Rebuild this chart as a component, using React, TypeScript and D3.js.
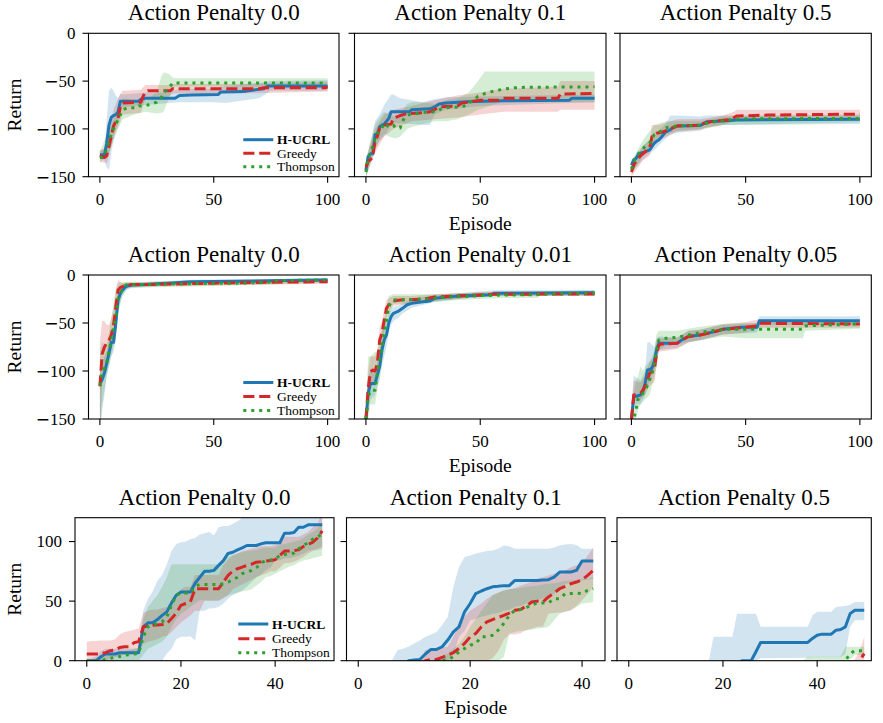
import React from 'react';
import * as d3 from 'd3';

type Pt = [number, number];
type Bd = [number, number, number];

const W = 883;
const H = 723;
const FONT = "'Liberation Serif','Times New Roman',Times,serif";
const COLORS = ['#1f77b4', '#d62728', '#2ca02c'];
const DASHES: (string | undefined)[] = [undefined, '11.1 4.8', '3 4.95'];
const LW = 3;
const SERIES_NAMES = ['H-UCRL', 'Greedy', 'Thompson'];

const ROW1_TITLES = ['Action Penalty 0.0', 'Action Penalty 0.1', 'Action Penalty 0.5'];
const ROW2_TITLES = ['Action Penalty 0.0', 'Action Penalty 0.01', 'Action Penalty 0.05'];
const ROW3_TITLES = ['Action Penalty 0.0', 'Action Penalty 0.1', 'Action Penalty 0.5'];

const Y_TICKS_NEG = [0, -50, -100, -150];
const Y_TICKS_POS = [0, 50, 100];
const X_TICKS_100 = [0, 50, 100];
const X_TICKS_50 = [0, 20, 40];

// ---------- Row 1 ----------
const R1P1_HUCRL: Pt[] = [[0,-127],[2,-127],[3,-115],[4,-96],[5,-88],[6,-86],[7,-85],[8,-82],[9,-71],[17,-71],[18,-69],[20,-68],[33,-68],[35,-65],[40,-64.5],[52,-64],[53,-61.5],[63,-61],[70,-58.5],[72,-58],[74,-55],[100,-55]];
const R1P1_HUCRL_BAND: Bd[] = [[0,-131,-123],[2,-133,-121],[3,-140,-90],[4,-143,-60],[5,-125,-57],[6,-112,-60],[7,-100,-65],[8,-95,-68],[9,-80,-63],[10,-77,-64],[20,-75,-62],[30,-73,-62],[35,-72,-58],[50,-72,-58],[55,-73,-55],[70,-68,-52],[75,-60,-50],[100,-60,-49]];
const R1P1_GREEDY: Pt[] = [[0,-128],[2,-130],[3,-128],[4,-118],[5,-108],[6,-97],[7,-92],[8,-89],[9,-77],[10,-73],[18,-72],[19,-66],[20,-61],[21,-60],[31,-60],[32,-58],[70,-58],[72,-57],[99,-57],[100,-56]];
const R1P1_GREEDY_BAND: Bd[] = [[0,-134,-122],[3,-136,-120],[4,-128,-105],[6,-108,-80],[8,-98,-68],[10,-85,-60],[18,-83,-59],[20,-68,-54],[30,-66,-54],[32,-63,-53],[60,-63,-53],[100,-61,-51]];
const R1P1_THOMPSON: Pt[] = [[0,-130],[1,-130],[2,-127],[3,-121],[4,-113],[5,-105],[6,-100],[7,-95],[8,-90],[9,-85],[10,-80],[12,-78],[16,-78],[17,-76],[21,-75],[25,-72],[27,-67],[28,-62],[30,-58],[32,-52],[100,-52]];
const R1P1_THOMPSON_BAND: Bd[] = [[0,-136,-124],[4,-125,-100],[8,-100,-80],[10,-90,-68],[15,-85,-70],[20,-82,-70],[25,-84,-62],[27,-83,-45],[28,-82,-41],[30,-70,-42],[32,-58,-46],[33,-56,-47],[100,-56,-47]];

const R1P2_HUCRL: Pt[] = [[0,-143],[1,-129],[2,-126],[3,-126],[4,-106],[5,-105],[6,-98],[7,-96],[8,-95],[9,-92],[10,-89],[11,-82],[19,-82],[20,-80],[28,-79],[30,-77],[32,-74],[35,-73],[44,-71.5],[60,-70.5],[89,-70],[90,-68],[100,-68]];
const R1P2_HUCRL_BAND: Bd[] = [[0,-150,-135],[2,-136,-115],[4,-120,-92],[6,-112,-85],[8,-108,-75],[10,-100,-68],[11,-95,-64],[12,-94,-64],[15,-94,-68],[20,-95,-70],[25,-96,-72],[28,-96,-70],[30,-85,-69],[35,-80,-67],[50,-76,-66],[100,-72,-64]];
const R1P2_GREEDY: Pt[] = [[0,-140],[1,-134],[2,-132],[3,-129],[4,-112],[5,-108],[6,-99],[7,-97],[8,-96],[11,-95],[12,-89],[15,-86],[18,-84],[25,-83],[28,-82],[30,-80],[32,-77],[40,-76],[42,-73],[46,-71.5],[50,-70],[58,-70],[60,-68],[84,-68],[85,-63.5],[100,-63]];
const R1P2_GREEDY_BAND: Bd[] = [[0,-150,-130],[4,-125,-100],[8,-108,-85],[12,-100,-80],[20,-92,-76],[30,-90,-70],[40,-88,-65],[50,-85,-62],[60,-82,-58],[84,-82,-56],[85,-80,-50],[100,-80,-50]];
const R1P2_THOMPSON: Pt[] = [[0,-145],[1,-130],[2,-125],[3,-118],[4,-110],[5,-105],[6,-101],[7,-99],[8,-94],[10,-98],[12,-96],[13,-99],[15,-99],[16,-92],[17,-88],[18,-86],[19,-85],[25,-83],[30,-82],[33,-79],[35,-78],[40,-77],[43,-76],[45,-73],[47,-70],[49,-66],[52,-63],[55,-61],[60,-58.5],[65,-57],[70,-56.5],[100,-56]];
const R1P2_THOMPSON_BAND: Bd[] = [[0,-150,-135],[2,-135,-112],[4,-122,-95],[6,-112,-88],[8,-105,-82],[10,-108,-85],[13,-110,-88],[15,-108,-85],[18,-100,-74],[20,-98,-72],[25,-95,-72],[30,-92,-74],[35,-92,-70],[40,-90,-68],[45,-85,-62],[49,-80,-50],[52,-78,-40],[55,-75,-40],[60,-72,-40],[100,-72,-40]];

const R1P3_HUCRL: Pt[] = [[0,-138],[1,-132.5],[2,-131],[3,-127],[4,-125.5],[6,-124],[8,-122],[9,-118.6],[10,-115],[11,-113],[12,-111.6],[13,-109],[14,-106],[15,-103],[17,-101],[18,-99],[20,-97],[30,-96.5],[32,-94],[33,-92.4],[40,-91.7],[46,-90.7],[100,-90]];
const R1P3_HUCRL_BAND: Bd[] = [[0,-145,-132],[5,-132,-118],[10,-122,-106],[15,-110,-95],[17,-106,-86],[20,-104,-86],[30,-102,-87],[33,-98,-86],[40,-96,-86],[100,-95,-85]];
const R1P3_GREEDY: Pt[] = [[0,-145],[1,-138],[2,-134],[3,-131],[4,-128],[5,-126],[6,-124],[7,-122],[8,-120],[9,-108],[10,-106],[11,-104.6],[14,-103],[16,-101],[18,-99],[20,-97],[30,-96],[32,-94],[35,-92.4],[40,-91],[44,-90],[45,-88],[46,-86.5],[60,-85.5],[100,-84.5]];
const R1P3_GREEDY_BAND: Bd[] = [[0,-150,-138],[5,-133,-118],[8,-128,-112],[9,-118,-96],[12,-112,-96],[20,-103,-90],[30,-101,-90],[40,-96,-86],[45,-92,-82],[46,-90,-80],[100,-89,-80]];
const R1P3_THOMPSON: Pt[] = [[0,-142],[1,-135],[2,-129],[3,-126],[4,-124],[5,-121],[6,-118.6],[7,-117],[8,-115],[9,-110],[10,-106],[12,-104],[13,-102],[14,-100],[15,-99],[17,-97.7],[20,-97],[30,-96],[33,-94],[35,-93],[40,-91.5],[45,-90],[50,-89.5],[100,-89]];
const R1P3_THOMPSON_BAND: Bd[] = [[0,-148,-135],[5,-128,-112],[10,-115,-96],[15,-106,-92],[20,-102,-92],[30,-100,-92],[40,-96,-87],[100,-93,-86]];

// ---------- Row 2 ----------
const R2P1_HUCRL: Pt[] = [[0,-113],[1,-109],[2,-102],[3,-92],[4,-81.6],[5,-70],[6,-70],[7,-50],[8,-26],[9,-19],[10,-15.6],[11,-13],[12,-11.5],[14,-10.4],[20,-10],[25,-9],[30,-8.5],[40,-7],[60,-6.5],[80,-5.8],[100,-5.2]];
const R2P1_HUCRL_BAND: Bd[] = [[0,-170,-95],[1,-140,-90],[2,-125,-85],[3,-105,-80],[4,-95,-68],[5,-85,-60],[6,-80,-60],[7,-65,-35],[8,-35,-15],[9,-28,-12],[10,-22,-10],[12,-15,-8],[14,-13,-8],[40,-10,-5],[100,-7,-3.5]];
const R2P1_GREEDY: Pt[] = [[0,-116],[1,-82],[2,-75],[3,-71],[4,-68],[5,-62.5],[6,-52],[7,-33],[8,-15.6],[9,-13],[10,-12],[11,-11],[12,-10.4],[14,-10],[20,-10],[25,-9.8],[30,-9.5],[40,-9],[50,-8.5],[60,-8],[75,-7.5],[100,-7]];
const R2P1_GREEDY_BAND: Bd[] = [[0,-170,-70],[1,-110,-48],[2,-100,-48],[3,-90,-52],[4,-85,-52],[5,-78,-45],[6,-68,-35],[7,-50,-15],[8,-25,-5],[9,-20,-7],[10,-16,-8],[12,-13,-8],[20,-12,-8],[100,-9,-5]];
const R2P1_THOMPSON: Pt[] = [[0,-115],[1,-102],[2,-97],[3,-91],[4,-80],[5,-68],[6,-55],[7,-45],[8,-25],[9,-20],[10,-14],[11,-11],[12,-10],[20,-10],[25,-9.5],[30,-9],[40,-9],[50,-8.8],[60,-8.5],[70,-8],[75,-7.5],[76,-6],[90,-5.5],[100,-5]];
const R2P1_THOMPSON_BAND: Bd[] = [[0,-170,-80],[1,-135,-70],[2,-120,-72],[3,-105,-72],[4,-95,-60],[5,-85,-45],[6,-75,-30],[7,-65,-15],[8,-40,-8],[9,-30,-8],[10,-20,-8],[12,-14,-7],[20,-13,-7],[40,-12,-6],[75,-10,-5],[100,-8,-3]];

const R2P2_HUCRL: Pt[] = [[0,-151],[1,-123],[2,-113],[4,-113],[5,-104],[6,-95.5],[7,-78],[8,-67.7],[9,-62.5],[10,-50],[11,-43.4],[12,-40],[14,-38],[16,-34.7],[18,-31],[20,-29.5],[25,-27.8],[28,-27],[30,-24.3],[40,-22],[55,-20.5],[56,-19],[100,-18.4]];
const R2P2_HUCRL_BAND: Bd[] = [[0,-160,-140],[1,-140,-105],[2,-130,-100],[4,-125,-100],[5,-115,-92],[6,-110,-80],[7,-95,-60],[8,-85,-52],[9,-75,-48],[10,-60,-40],[11,-52,-36],[12,-48,-33],[14,-45,-32],[16,-40,-30],[20,-34,-25],[30,-28,-21],[40,-25,-19],[56,-22,-16],[100,-21,-16]];
const R2P2_GREEDY: Pt[] = [[0,-150],[1,-118],[2,-100.7],[3,-99],[4,-100],[5,-92],[6,-67.7],[7,-60.8],[8,-47],[9,-34.7],[10,-31],[11,-28],[12,-27],[15,-26],[25,-25.3],[30,-23],[40,-22],[50,-20.8],[56,-20],[100,-19.8]];
const R2P2_GREEDY_BAND: Bd[] = [[0,-165,-135],[1,-135,-100],[2,-115,-85],[4,-115,-85],[5,-105,-78],[6,-80,-55],[7,-75,-48],[8,-60,-35],[9,-45,-26],[10,-38,-24],[12,-32,-22],[20,-30,-22],[30,-27,-20],[40,-25,-19],[56,-22,-18],[100,-22,-17]];
const R2P2_THOMPSON: Pt[] = [[0,-150],[1,-127],[2,-120],[4,-120],[5,-102],[6,-88.5],[7,-74.7],[8,-60.8],[9,-47],[10,-33],[11,-28],[12,-26],[20,-25.5],[30,-24.3],[35,-23],[40,-22.5],[50,-21.5],[60,-20.8],[75,-20.5],[76,-19.8],[100,-19]];
const R2P2_THOMPSON_BAND: Bd[] = [[0,-165,-135],[1,-150,-85],[2,-135,-85],[4,-135,-80],[5,-120,-80],[6,-105,-70],[7,-90,-55],[8,-75,-45],[9,-60,-32],[10,-45,-22],[12,-30,-20],[20,-30,-20],[30,-28,-20],[40,-26,-19],[60,-24,-17],[75,-24,-17],[76,-22,-17],[100,-21,-16]];

const R2P3_HUCRL: Pt[] = [[0,-151],[1,-127],[4,-125],[5,-121.5],[6,-113],[7,-99],[8,-98.5],[9,-97],[10,-90],[11,-78],[12,-71],[20,-71],[22,-67.7],[25,-64],[30,-62.5],[33,-60.8],[38,-58],[40,-56.6],[48,-54.5],[55,-54.5],[56,-47.6],[100,-47.6]];
const R2P3_HUCRL_BAND: Bd[] = [[0,-160,-140],[1,-135,-105],[4,-135,-110],[6,-125,-100],[7,-115,-70],[8,-112,-70],[10,-100,-75],[11,-88,-66],[12,-78,-64],[20,-76,-65],[25,-70,-58],[30,-68,-57],[40,-62,-52],[55,-60,-50],[56,-52,-43],[100,-52,-43]];
const R2P3_GREEDY: Pt[] = [[0,-151],[1,-125],[4,-123],[5,-120],[6,-116],[7,-110],[8,-102],[9,-101],[10,-99],[11,-81.6],[12,-73],[13,-72],[20,-71],[22,-68],[25,-64],[30,-62.5],[35,-60],[38,-58],[40,-56.6],[48,-55],[55,-53],[56,-50.3],[100,-51]];
const R2P3_GREEDY_BAND: Bd[] = [[0,-165,-138],[1,-132,-110],[4,-130,-112],[6,-125,-105],[8,-115,-90],[10,-112,-85],[11,-95,-68],[12,-80,-66],[20,-77,-65],[25,-70,-58],[30,-68,-57],[40,-62,-51],[50,-60,-49],[56,-55,-46],[100,-55,-47]];
const R2P3_THOMPSON: Pt[] = [[0,-155],[1,-150],[2,-140.6],[3,-128.5],[4,-127],[5,-123],[6,-120],[7,-115],[8,-109],[9,-102],[10,-92],[11,-78],[12,-67.7],[15,-66],[20,-65],[25,-62.5],[30,-60],[35,-58],[40,-56.6],[75,-56.6],[76,-53],[100,-51]];
const R2P3_THOMPSON_BAND: Bd[] = [[0,-165,-138],[2,-150,-110],[3,-140,-105],[4,-135,-95],[5,-132,-100],[6,-130,-95],[8,-125,-90],[9,-115,-85],[10,-108,-78],[11,-95,-62],[12,-78,-58],[15,-74,-58],[20,-72,-58],[30,-68,-54],[40,-64,-51],[50,-66,-50],[75,-66,-50],[76,-58,-48],[100,-56,-47]];

// ---------- Row 3 (values per episode, index = episode) ----------
const R3P1_HUCRL = [
  0,0,0,3.3,5.6,5.6,5.6,6.7,6.7,6.7,
  6.7,6.7,28.4,31.8,31.8,34.5,38,41,48.5,55,
  57.7,57.7,57.7,65,70,75,75,75.8,80,84,
  90,91,93,94.7,96.7,96.7,96.7,98,99,99,
  99,99,107,107,107.5,112,112,114,114,114,
  114];
const R3P1_HUCRL_LO = [
  0,0,0,0,0,0,0,0,0,0,
  0,0,0,0,0,0,0,6,10,18,
  20,20,20.6,17,42,42,43.7,44,45,48,
  52,55,57,59,62,66,70,72,76,78,
  84,84,86,86,87,88,90,92,93,94,
  96];
const R3P1_HUCRL_HI = [
  0,2,4,8,10,10,10,10,10,10,
  10,10,42,52,58,67,72,81,92,98,
  99.4,100,102,103,106,107,108,105,112,113,
  113,115,117,120,125,125,125,125,125,125,
  125,125,125,125,125,125,125,125,125,125,
  125];
const R3P1_GREEDY = [
  5.6,5.6,5.6,6,6.7,8.4,9,11,11.7,11.7,
  15,16,28.4,29,29.8,30,30.4,31.2,35.4,40,
  46.5,48,49.3,60.4,60.4,60.4,60.4,60.4,60.4,66,
  71.6,75.2,77.2,78.5,80,81,82.7,83,83.6,84,
  84.7,88.3,92,92,92.5,93,95.8,97.5,99.4,103,
  109];
const R3P1_GREEDY_LO = [
  0,0,0,0,0,2,3,4,5,5,
  6,8,14,16,17,18,20,21,24,28,
  32,35,38,42,42,50,50,50,50,53,
  55,60,62,64,66,68,70,72,73,75,
  75,78,82,82,83,85,87,90,92,93,
  94];
const R3P1_GREEDY_HI = [
  16,16.5,16.5,17,17,17,18,22,24,25,
  26,27,40,42,43,43,44,45,48,52,
  60,62,62,72,72,72,72,72,72,80,
  85,88,90,92,93,94,95,96,96,96,
  97,100,104,104,104,104,106,108,112,115,
  125];
const R3P1_THOMPSON = [
  0,0,0,0,1,2,2.8,3.5,4.7,5,
  5.6,6,20,28.4,29.8,31.2,32.6,36.8,46.5,55,
  56.8,56.8,56.8,62.4,64,64,64,64,64,64.6,
  66,68,70,73,74.4,75.8,78,82,84,84.5,
  85.2,88.3,89,90.2,90.2,93.9,96.7,99,102,104,
  106.4];
const R3P1_THOMPSON_LO = [
  0,0,0,0,0,0,0,0,0,0,
  0,0,5,10,12,14,16,20,28,35,
  39.5,42,45,48,50.7,50.7,50.7,50.7,50.7,52,
  55,56,57,58,59,60,63,66,70,71,
  73,75,77,79,80,82.7,84,85,86,87,
  88];
const R3P1_THOMPSON_HI = [
  1,1,2,2,4,5,6,7,8,9,
  10,11,35,45,50,55,62,70,81,81,
  81,81,81,81,81,81,81,81,81,84,
  87,89,90,91,92,92.5,93,94,95,95,
  95,97,98,99,100,100.8,103,106,108,111,
  114.7];

const R3P2_HUCRL = [
  -20,-20,-20,-20,-20,-20,-20,-20,-20,0,
  0.5,1,5.6,9.5,9.5,11.7,17.3,24.2,28.4,41,
  48,56.3,58.5,60.4,62,62.4,63,63,67.4,67.4,
  67.4,67.4,67.4,67.7,68,70.2,74.4,74.4,74.4,75.8,
  83.6,83.6,83.6];
const R3P2_HUCRL_LO = [
  0,0,0,0,0,0,0,0,0,0,
  0,0,0,0,0,0,0,5,20,25,
  34,35,36.8,38,39.5,40,42,43,45,46,
  48,50,51,52,53.5,56,62,64,66,67,
  67.4,68,68.8];
const R3P2_HUCRL_HI = [
  0,0,0,0,0,0,0,9,10,12,
  14.5,17,20,22,24,30,36.8,62,78.5,87,
  88.3,90,91,92,92.5,94,96.7,96,94,94,
  94,94,94,94,94,95,96.7,97.5,98,97,
  94,94,94];
const R3P2_GREEDY = [
  -20,-20,-20,-20,-20,-20,-20,-20,-20,-20,
  -20,-20,0,1,1,2.8,4.7,6.7,10.3,14.5,
  20,22.8,28.4,32.6,34.5,36.2,38,40,42.3,43,
  45.7,49.3,50,49.3,53.5,56.8,60.4,62.4,64.6,66,
  68,71.6,75.8];
const R3P2_GREEDY_LO = [
  0,0,0,0,0,0,0,0,0,0,
  0,0,0,0,0,0,0,0,0,0,
  0,0,0,0,2,8,17.3,22,22,23,
  25.6,27,28.4,28.4,39.5,40,40.5,41,42.3,46,
  50.7,56,62];
const R3P2_GREEDY_HI = [
  0,0,0,0,0,0,0,0,0,0,
  0,0,9,10,10.5,11,11.7,20,31,37,
  42,45,48,52,55,57,59,60,61,63,
  64.6,66,68.8,70,71.6,73,74.4,76,78.5,80,
  82.7,88,95];
const R3P2_THOMPSON = [
  -20,-20,-20,-20,-20,-20,-20,-20,-20,-20,
  -20,-20,-20,-20,-20,0,1,3.3,7.5,10.3,
  13,14.5,20,20,21.4,25.6,31.2,38,42.3,43,
  44.6,46.5,48.5,48.5,48.5,52,52,56.3,56.3,56.8,
  56.3,59,60.4];
const R3P2_THOMPSON_LO = [
  0,0,0,0,0,0,0,0,0,0,
  0,0,0,0,0,0,0,0,0,0,
  0,0,0,0,0,0,3,22.8,24,25,
  25.6,26,27,27.5,28.4,34,39.5,41,42.3,45,
  48,48.5,49.3];
const R3P2_THOMPSON_HI = [
  0,0,0,0,0,0,0,0,0,0,
  0,0,0,0,2,4,6,10,14.5,20,
  28.4,35,42,48,55,57,59,60,60.4,61,
  62,62.5,63,64,64.6,65,66,67,67.4,68,
  68.8,69,70];

const R3P3_HUCRL: Pt[] = [[0,-20],[23,-20],[24,0],[26,0],[27,7.5],[28,15.3],[38,15.3],[39,18.7],[40,21.4],[41,22.3],[43,22.3],[44,25.6],[45,26.2],[46,28.4],[47,39.5],[48,42.3],[50,42.3]];
const R3P3_HUCRL_BAND: Bd[] = [[0,0,0],[17,0,0],[18,0,20],[22,0,20],[23,0,39.5],[27,0,39.5],[28,2,28.4],[38,2.5,28.4],[39,3,38],[40,3,41],[43,3,41],[44,3,45],[45,3,45.5],[46,5.6,46],[47,28.4,47],[48,34,49.3],[50,34,49.3]];
const R3P3_GREEDY: Pt[] = [[0,-20],[48,-20],[49,0],[50,6]];
const R3P3_GREEDY_BAND: Bd[] = [[0,0,0],[47,0,0],[48,0,1],[49,0,8],[50,0,20]];
const R3P3_THOMPSON: Pt[] = [[0,-20],[45,-20],[46,0],[47,6],[48,8.4],[50,8.4]];
const R3P3_THOMPSON_BAND: Bd[] = [[0,0,0],[37,0,0],[38,0,3.3],[45,0,3.3],[46,0,11.7],[47,1,11.7],[48,4.7,11.7],[50,4.7,11.7]];

// ---------- helpers ----------
const byEpisode = (vals: number[]): Pt[] => vals.map((v, i) => [i, v] as Pt);
const bandByEpisode = (lo: number[], hi: number[]): Bd[] => lo.map((l, i) => [i, l, hi[i]] as Bd);

interface Series { line: Pt[]; band: Bd[] }
interface RowSpec {
  top: number; bottom: number;
  yDomain: [number, number]; yTicks: number[];
  titles: string[];
  cols: [number, number][];
  xDomains: [number, number][];
  xTicks: number[];
  legendDy: number[];
  data: Series[][];
}

const ROWS: RowSpec[] = [
  {
    top: 33.3, bottom: 176.7, yDomain: [-150, 0], yTicks: Y_TICKS_NEG, titles: ROW1_TITLES,
    cols: [[88.5, 339], [354.5, 606], [620, 871.3]],
    xDomains: [[-5, 105], [-5, 105], [-5, 105]], xTicks: X_TICKS_100,
    legendDy: [-37, -23.5, -10],
    data: [
      [{ line: R1P1_HUCRL, band: R1P1_HUCRL_BAND }, { line: R1P1_GREEDY, band: R1P1_GREEDY_BAND }, { line: R1P1_THOMPSON, band: R1P1_THOMPSON_BAND }],
      [{ line: R1P2_HUCRL, band: R1P2_HUCRL_BAND }, { line: R1P2_GREEDY, band: R1P2_GREEDY_BAND }, { line: R1P2_THOMPSON, band: R1P2_THOMPSON_BAND }],
      [{ line: R1P3_HUCRL, band: R1P3_HUCRL_BAND }, { line: R1P3_GREEDY, band: R1P3_GREEDY_BAND }, { line: R1P3_THOMPSON, band: R1P3_THOMPSON_BAND }],
    ],
  },
  {
    top: 275, bottom: 419, yDomain: [-150, 0], yTicks: Y_TICKS_NEG, titles: ROW2_TITLES,
    cols: [[88.5, 339], [354.5, 606], [620, 871.3]],
    xDomains: [[-5, 105], [-5, 105], [-5, 105]], xTicks: X_TICKS_100,
    legendDy: [-36.5, -22.5, -8.5],
    data: [
      [{ line: R2P1_HUCRL, band: R2P1_HUCRL_BAND }, { line: R2P1_GREEDY, band: R2P1_GREEDY_BAND }, { line: R2P1_THOMPSON, band: R2P1_THOMPSON_BAND }],
      [{ line: R2P2_HUCRL, band: R2P2_HUCRL_BAND }, { line: R2P2_GREEDY, band: R2P2_GREEDY_BAND }, { line: R2P2_THOMPSON, band: R2P2_THOMPSON_BAND }],
      [{ line: R2P3_HUCRL, band: R2P3_HUCRL_BAND }, { line: R2P3_GREEDY, band: R2P3_GREEDY_BAND }, { line: R2P3_THOMPSON, band: R2P3_THOMPSON_BAND }],
    ],
  },
  {
    top: 517.7, bottom: 660.7, yDomain: [0, 120], yTicks: Y_TICKS_POS, titles: ROW3_TITLES,
    cols: [[75, 334], [346.5, 605], [617, 871.3]],
    xDomains: [[-2.5, 52.5], [-2.1, 44.1], [-2.5, 51.5]], xTicks: X_TICKS_50,
    legendDy: [-36.7, -22, -8],
    data: [
      [
        { line: byEpisode(R3P1_HUCRL), band: bandByEpisode(R3P1_HUCRL_LO, R3P1_HUCRL_HI) },
        { line: byEpisode(R3P1_GREEDY), band: bandByEpisode(R3P1_GREEDY_LO, R3P1_GREEDY_HI) },
        { line: byEpisode(R3P1_THOMPSON), band: bandByEpisode(R3P1_THOMPSON_LO, R3P1_THOMPSON_HI) },
      ],
      [
        { line: byEpisode(R3P2_HUCRL), band: bandByEpisode(R3P2_HUCRL_LO, R3P2_HUCRL_HI) },
        { line: byEpisode(R3P2_GREEDY), band: bandByEpisode(R3P2_GREEDY_LO, R3P2_GREEDY_HI) },
        { line: byEpisode(R3P2_THOMPSON), band: bandByEpisode(R3P2_THOMPSON_LO, R3P2_THOMPSON_HI) },
      ],
      [{ line: R3P3_HUCRL, band: R3P3_HUCRL_BAND }, { line: R3P3_GREEDY, band: R3P3_GREEDY_BAND }, { line: R3P3_THOMPSON, band: R3P3_THOMPSON_BAND }],
    ],
  },
];

function TickLabel({ v }: { v: number }) {
  if (v < 0) {
    return (
      <>
        <tspan fontFamily="'DejaVu Sans',sans-serif">{'\u2212'}</tspan>
        <tspan>{String(Math.abs(v))}</tspan>
      </>
    );
  }
  return <>{String(v)}</>;
}

function Panel({ row, ri, pi }: { row: RowSpec; ri: number; pi: number }) {
  const [left, right] = row.cols[pi];
  const { top, bottom } = row;
  const x = d3.scaleLinear().domain(row.xDomains[pi]).range([left, right]);
  const y = d3.scaleLinear().domain(row.yDomain).range([bottom, top]);
  const line = d3.line<Pt>().x(d => x(d[0])).y(d => y(d[1]));
  const area = d3.area<Bd>().x(d => x(d[0])).y0(d => y(d[1])).y1(d => y(d[2]));
  const clipId = `clip-${ri}-${pi}`;
  const series = row.data[pi];
  const cx = (left + right) / 2;
  return (
    <g>
      <defs>
        <clipPath id={clipId}>
          <rect x={left} y={top} width={right - left} height={bottom - top} />
        </clipPath>
      </defs>
      <g clipPath={`url(#${clipId})`}>
        {series.map((s, i) => (
          <path key={'b' + i} d={area(s.band) || ''} fill={COLORS[i]} fillOpacity={0.2} stroke="none" />
        ))}
        {series.map((s, i) => (
          <path key={'l' + i} d={line(s.line) || ''} fill="none" stroke={COLORS[i]} strokeWidth={LW}
            strokeDasharray={DASHES[i]} strokeLinejoin="round" strokeLinecap="butt" />
        ))}
      </g>
      <rect x={left} y={top} width={right - left} height={bottom - top} fill="none" stroke="#000" strokeWidth={1.1} />
      {row.xTicks.map(t => (
        <g key={'xt' + t}>
          <line x1={x(t)} x2={x(t)} y1={bottom} y2={bottom + 6} stroke="#000" strokeWidth={1.1} />
          <text x={x(t)} y={bottom + 28} textAnchor="middle" fontSize={17} fontFamily={FONT}><TickLabel v={t} /></text>
        </g>
      ))}
      {row.yTicks.map(t => (
        <g key={'yt' + t}>
          <line x1={left - 6} x2={left} y1={y(t)} y2={y(t)} stroke="#000" strokeWidth={1.1} />
          {pi === 0 && (
            <text x={left - 13} y={y(t) + 5.8} textAnchor="end" fontSize={17} fontFamily={FONT}><TickLabel v={t} /></text>
          )}
        </g>
      ))}
      <text x={cx} y={top - 13} textAnchor="middle" fontSize={23} fontFamily={FONT}>{row.titles[pi]}</text>
      {pi === 0 && (
        <text transform={`translate(14,${(top + bottom) / 2}) rotate(-90)`} textAnchor="middle"
          dominantBaseline="central" fontSize={19.5} fontFamily={FONT}>Return</text>
      )}
      {pi === 1 && (
        <text x={cx} y={bottom + 53} textAnchor="middle" fontSize={19.5} fontFamily={FONT}>Episode</text>
      )}
      {pi === 0 && (
        <g>
          {SERIES_NAMES.map((name, i) => {
            const ly = bottom + row.legendDy[i];
            return (
              <g key={name}>
                <line x1={right - 95.7} x2={right - 65.7} y1={ly} y2={ly} stroke={COLORS[i]} strokeWidth={LW}
                  strokeDasharray={DASHES[i]} />
                <text x={right - 62} y={ly + 4.6} fontSize={13.5} fontFamily={FONT}
                  fontWeight={i === 0 ? 'bold' : 'normal'}>{name}</text>
              </g>
            );
          })}
        </g>
      )}
    </g>
  );
}

export default function App() {
  return (
    <div style={{ position: 'absolute', left: 0, top: 0 }}>
      <svg width={W} height={H} viewBox={`0 0 ${W} ${H}`} style={{ display: 'block', background: '#fff' }}>
        {ROWS.map((row, ri) => (
          <g key={ri}>
            {row.cols.map((_, pi) => (
              <Panel key={pi} row={row} ri={ri} pi={pi} />
            ))}
          </g>
        ))}
      </svg>
    </div>
  );
}
